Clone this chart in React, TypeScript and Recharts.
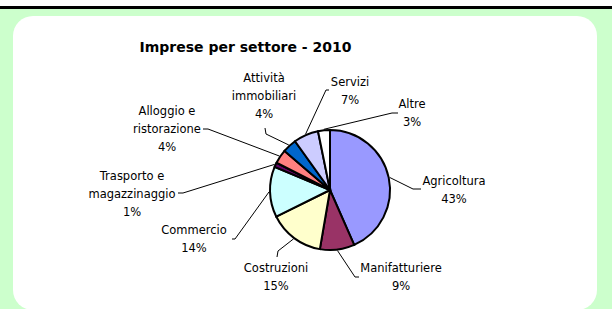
import React from 'react';
import { PieChart, Pie, Cell } from 'recharts';

// settori, in senso orario partendo dalle ore 12
const sectors = [
  'Agricoltura',
  'Manifatturiere',
  'Costruzioni',
  'Commercio',
  'Trasporto e magazzinaggio',
  'Alloggio e ristorazione',
  'Attività immobiliari',
  'Servizi',
  'Altre',
];
const shares = [43.4, 9.3, 15.0, 13.6, 1.2, 3.8, 3.8, 6.7, 3.2];
const labelLines = [
  ['Agricoltura'],
  ['Manifatturiere'],
  ['Costruzioni'],
  ['Commercio'],
  ['Trasporto e', 'magazzinaggio'],
  ['Alloggio e', 'ristorazione'],
  ['Attività', 'immobiliari'],
  ['Servizi'],
  ['Altre'],
];

const colors = [
  '#9999FF',
  '#993366',
  '#FFFFCC',
  '#CCFFFF',
  '#660066',
  '#FF8080',
  '#0066CC',
  '#CCCCFF',
  '#FFFFFF',
];

// label placement relative to pie centre (Excel puts them by hand)
const labelPos = [
  { tx: 124, ty: 0, elbow: [83, -1], end: [91, -1] },
  { tx: 71, ty: 87, elbow: [25, 87], end: [29, 87] },
  { tx: -54, ty: 87, elbow: [-52, 61], end: [-53, 67] },
  { tx: -136, ty: 49, elbow: [-95, 49], end: [-98, 49] },
  { tx: -198, ty: 4, elbow: [-147, 3], end: [-152, 3] },
  { tx: -163, ty: -61, elbow: [-122, -61], end: [-127, -61] },
  { tx: -66, ty: -94, elbow: [-64, -56], end: [-65, -62] },
  { tx: 20, ty: -99, elbow: [-4, -100], end: [-1, -100] },
  { tx: 82, ty: -77, elbow: [62, -77], end: [68, -77] },
];

const data = sectors.map((name, i) => ({ name, value: shares[i] }));

const FONT = '"DejaVu Sans", Verdana, sans-serif';
const LINE_H = 18;
const RAD = Math.PI / 180;

const renderLabel = (props: any) => {
  const { cx, cy, midAngle, outerRadius, index, percent } = props;
  const pos = labelPos[index];
  const sx = cx + (outerRadius + 1) * Math.cos(-midAngle * RAD);
  const sy = cy + (outerRadius + 1) * Math.sin(-midAngle * RAD);
  const lines = [...labelLines[index], `${Math.round(percent * 100)}%`];
  const top = cy + pos.ty - ((lines.length - 1) * LINE_H) / 2;
  return (
    <g key={`lab-${index}`}>
      <polyline
        points={`${sx},${sy} ${cx + pos.elbow[0]},${cy + pos.elbow[1]} ${cx + pos.end[0]},${cy + pos.end[1]}`}
        fill="none"
        stroke="#000"
        strokeWidth={1}
      />
      {lines.map((t, k) => (
        <text
          key={k}
          x={cx + pos.tx}
          y={top + k * LINE_H}
          textAnchor="middle"
          dominantBaseline="central"
          fontFamily={FONT}
          fontSize={11.5}
          fill="#000"
        >
          {t}
        </text>
      ))}
    </g>
  );
};

export default function App() {
  return (
    <div style={{ position: 'absolute', left: 0, top: 0, width: 612, height: 309, background: '#fff', overflow: 'hidden' }}>
      <div style={{ position: 'absolute', left: 0, top: 6, width: 612, height: 3, background: '#000' }} />
      <div style={{ position: 'absolute', left: 0, top: 9, width: 612, height: 300, background: '#CCFFCC' }} />
      <div
        style={{
          position: 'absolute',
          left: 13,
          top: 16,
          width: 584,
          height: 294,
          background: '#fff',
          borderRadius: 20,
        }}
      />
      <div
        style={{
          position: 'absolute',
          left: 0,
          top: 39,
          width: 491,
          textAlign: 'center',
          fontFamily: FONT,
          fontWeight: 'bold',
          fontSize: 14,
          color: '#000',
        }}
      >
        Imprese per settore - 2010
      </div>
      <div style={{ position: 'absolute', left: 0, top: 0 }}>
        <PieChart width={612} height={309} margin={{ top: 0, right: 0, bottom: 0, left: 0 }}>
          <Pie
            data={data}
            dataKey="value"
            nameKey="name"
            cx={330}
            cy={190}
            outerRadius={60}
            startAngle={90}
            endAngle={-270}
            stroke="#000"
            strokeWidth={2}
            label={renderLabel}
            labelLine={false}
            isAnimationActive={false}
          >
            {data.map((d, i) => (
              <Cell key={d.name} fill={colors[i]} />
            ))}
          </Pie>
        </PieChart>
      </div>
    </div>
  );
}
